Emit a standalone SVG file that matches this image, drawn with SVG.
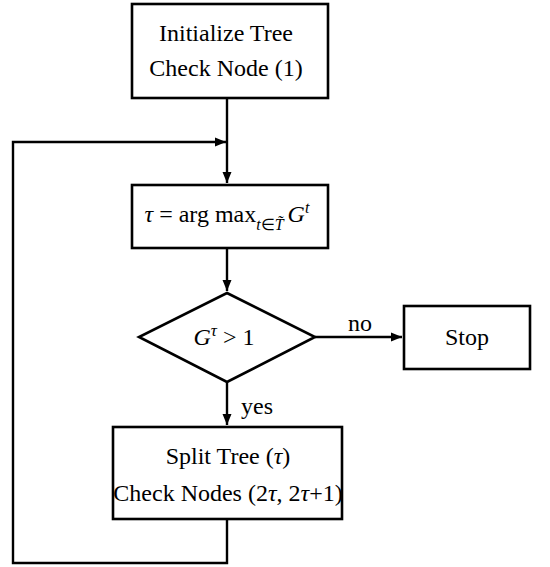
<svg xmlns="http://www.w3.org/2000/svg" width="550" height="567" viewBox="0 0 550 567">
<style>
.box{fill:#fff;stroke:#000;stroke-width:2.6}
.ln{fill:none;stroke:#000;stroke-width:2.4}
text{font-family:"Liberation Serif","Times New Roman",serif;font-size:24px;fill:#000}
.c{text-anchor:middle}
.i{font-style:italic}
</style>
<defs>
<marker id="ah" markerWidth="12" markerHeight="10" refX="11" refY="5" orient="auto" markerUnits="userSpaceOnUse">
<path d="M0,0.5 L11,5 L0,9.5 Z" fill="#000"/>
</marker>
</defs>
<g id="connectors">
<line class="ln" x1="227" y1="98" x2="227" y2="183" marker-end="url(#ah)"/>
<line class="ln" x1="227" y1="248" x2="227" y2="291" marker-end="url(#ah)"/>
<line class="ln" x1="315" y1="337" x2="402" y2="337" marker-end="url(#ah)"/>
<line class="ln" x1="227" y1="382" x2="227" y2="425" marker-end="url(#ah)"/>
<polyline class="ln" points="227,519 227,563 13,563 13,142 226,142" marker-end="url(#ah)"/>
<text x="360" y="331" class="c">no</text>
<text x="241" y="414">yes</text>
</g>
<g id="init">
<rect class="box" x="132" y="4" width="196" height="94"/>
<text x="226" y="41" class="c" font-size="25">Initialize Tree</text>
<text x="226" y="76" class="c">Check Node (1)</text>
</g>
<g id="argmax">
<rect class="box" x="132" y="185" width="196" height="63"/>
<text x="227" y="222" class="c" font-size="23"><tspan class="i">τ</tspan> = arg max<tspan class="i" font-size="16" dy="8">t</tspan><tspan font-size="16">∈</tspan><tspan class="i" font-size="16">T̃</tspan><tspan class="i" dx="4" dy="-8">G</tspan><tspan class="i" font-size="16" dy="-9">t</tspan></text>
</g>
<g id="decision">
<polygon class="box" points="227,293 315,337 227,382 139,337"/>
<text x="224" y="345" class="c" font-size="25"><tspan class="i">G</tspan><tspan class="i" font-size="17" dy="-9">τ</tspan><tspan dy="9" dx="6">&gt;</tspan><tspan dx="6">1</tspan></text>
</g>
<g id="stop">
<rect class="box" x="404" y="306" width="126" height="63"/>
<text x="467" y="345" class="c">Stop</text>
</g>
<g id="split">
<rect class="box" x="113" y="427" width="229" height="92"/>
<text x="228" y="464" class="c">Split Tree (<tspan class="i">τ</tspan>)</text>
<text x="228" y="501" class="c" font-size="23">Check Nodes (2<tspan class="i">τ</tspan>, 2<tspan class="i">τ</tspan>+1)</text>
</g>
</svg>
